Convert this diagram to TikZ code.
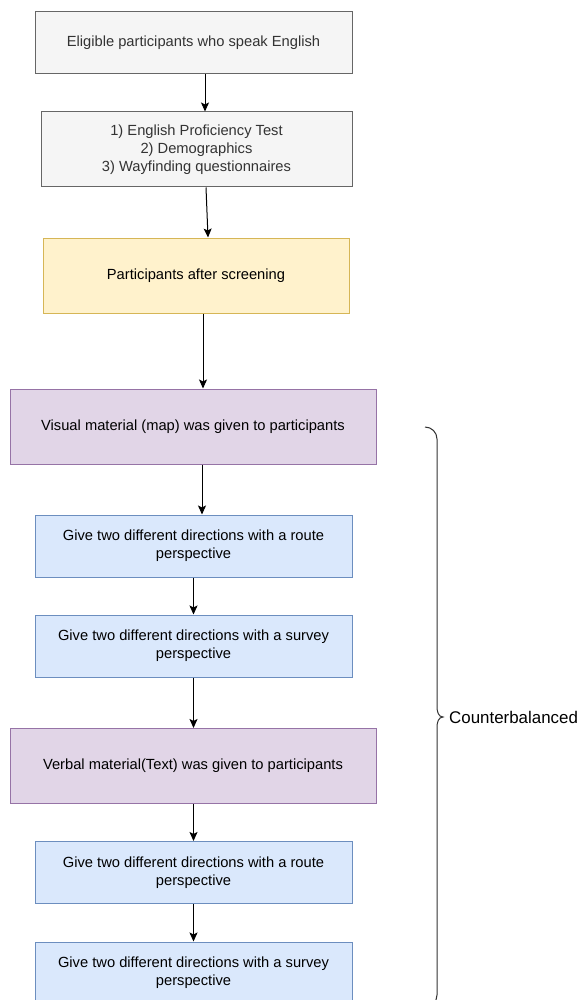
\documentclass[tikz,border=0pt]{standalone}
\usepackage{fontspec}
\setmainfont{Liberation Sans}
\usetikzlibrary{arrows.meta}
\definecolor{grayfill}{HTML}{F5F5F5}
\definecolor{grayline}{HTML}{666666}
\definecolor{graytext}{HTML}{333333}
\definecolor{yellowfill}{HTML}{FFF2CC}
\definecolor{yellowline}{HTML}{D6B656}
\definecolor{purplefill}{HTML}{E1D5E7}
\definecolor{purpleline}{HTML}{9673A6}
\definecolor{bluefill}{HTML}{DAE8FC}
\definecolor{blueline}{HTML}{6C8EBF}
\tikzset{
  box/.style={draw, line width=1pt, inner sep=0pt, align=center,
    font=\fontsize{14.7}{17.8}\selectfont},
  graybox/.style={box, fill=grayfill, draw=grayline, text=graytext},
  yellowbox/.style={box, fill=yellowfill, draw=yellowline},
  purplebox/.style={box, fill=purplefill, draw=purpleline, minimum width=366pt, minimum height=75pt},
  bluebox/.style={box, fill=bluefill, draw=blueline, minimum width=317pt, minimum height=62pt},
  arr/.style={-{Stealth[length=9pt,width=8pt,inset=2pt]}, line width=1pt},
}

\begin{document}
\begin{tikzpicture}[x=1pt,y=-1pt]
		\clip (0,0) rectangle (582,1000);
		%%%%% START %%%%%
		\node[graybox, minimum width=317pt, minimum height=62pt] (eligible) at (193.5,43) {Eligible participants who speak English};
		\node[graybox, minimum width=311pt, minimum height=75pt] (tests) at (196.5,149.5) {1) English Proficiency Test\\2) Demographics\\3) Wayfinding questionnaires};
		\node[yellowbox, minimum width=306pt, minimum height=75pt] (screened) at (196,275.5) {Participants after screening};
		
		\node[purplebox] (visual) at (193,426.5) {Visual material (map) was given to participants};
		\node[bluebox] (routeA) at (193.5,546) {Give two different directions with a route\\perspective};
		\node[bluebox] (surveyA) at (193.5,646) {Give two different directions with a survey\\perspective};
		
		\node[purplebox] (verbal) at (193,766) {Verbal material(Text) was given to participants};
		\node[bluebox] (routeB) at (193.5,872.5) {Give two different directions with a route\\perspective};
		\node[bluebox] (surveyB) at (193.5,973) {Give two different directions with a survey\\perspective};
		
		\draw[arr] ([xshift=11.5pt]eligible.south) -- ([xshift=8.5pt]tests.north);
		\draw[arr] ([xshift=9.5pt]tests.south) -- ([xshift=12pt]screened.north);
		\draw[arr] ([xshift=7pt]screened.south) -- ([xshift=10pt]visual.north);
		\draw[arr] ([xshift=9pt]visual.south) -- ([xshift=8.5pt]routeA.north);
		\draw[arr] (routeA) -- (surveyA);
		\draw[arr] (surveyA) -- (surveyA |- verbal.north);
		\draw[arr] (verbal.south -| routeB) -- (routeB);
		\draw[arr] (routeB) -- (surveyB);
		
		% brace
		\coordinate (tip) at (443,717);
		\draw[graytext, line width=1pt] (425,427) to[out=0,in=90] (437,439) -- (437,707) to[out=-90,in=180] (tip) to[out=180,in=90] (437,727) -- (437,995) to[out=-90,in=0] (425,1007);
		\node[anchor=west, inner sep=0pt, font=\fontsize{16.9}{20}\selectfont] (counter) at ([xshift=6pt]tip) {Counterbalanced};
		%%%%% END %%%%%
	\end{tikzpicture}
\end{document}
